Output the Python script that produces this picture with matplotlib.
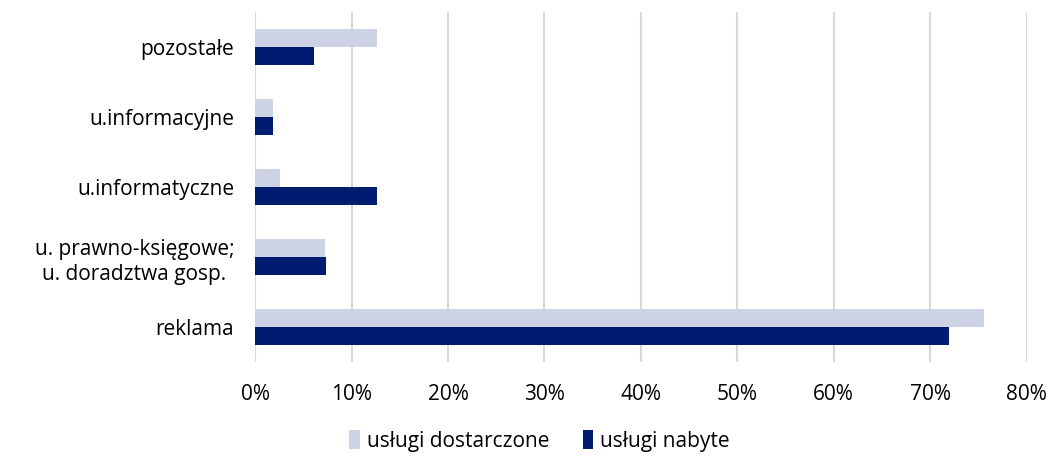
import numpy as np
import matplotlib.pyplot as plt
from matplotlib.ticker import PercentFormatter

plt.rcParams['font.family'] = ['Open Sans', 'DejaVu Sans']

categories = ['reklama', 'u. prawno-księgowe;\nu. doradztwa gosp.', 'u.informatyczne',
              'u.informacyjne', 'pozostałe']
dostarczone = [75.6, 7.3, 2.6, 1.9, 12.6]
nabyte = [72.0, 7.4, 12.6, 1.9, 6.1]

light = '#CDD2E5'
dark = '#001C71'

fig = plt.figure(figsize=(10.54, 4.59), dpi=100)
ax = fig.add_axes([0.242, 0.211, 0.732, 0.763])

y = np.arange(len(categories))
h = 0.257
ax.barh(y + h / 2, dostarczone, height=h, color=light, label='usługi dostarczone')
ax.barh(y - h / 2, nabyte, height=h, color=dark, label='usługi nabyte')

ax.set_xlim(0, 80)
ax.set_ylim(-0.5, len(categories) - 0.5)
ax.set_xticks(np.arange(0, 81, 10))
ax.xaxis.set_major_formatter(PercentFormatter(decimals=0))
ax.set_yticks(y)
ax.set_yticklabels(categories, linespacing=1.25, multialignment='center')
ax.tick_params(length=0, labelsize=15, colors='#000000')
ax.tick_params(axis='x', pad=16)
ax.tick_params(axis='y', pad=15)

ax.grid(axis='x', color='#D9D9D9', linewidth=1.5)
ax.set_axisbelow(True)
for s in ax.spines.values():
    s.set_visible(False)

fig.legend(loc='lower center', bbox_to_anchor=(0.512, -0.025), ncol=2, frameon=False,
           fontsize=15, handlelength=0.5, handleheight=1.0, handletextpad=0.35,
           columnspacing=1.6, labelcolor='#000000')

fig.savefig('out.png', dpi=100)
